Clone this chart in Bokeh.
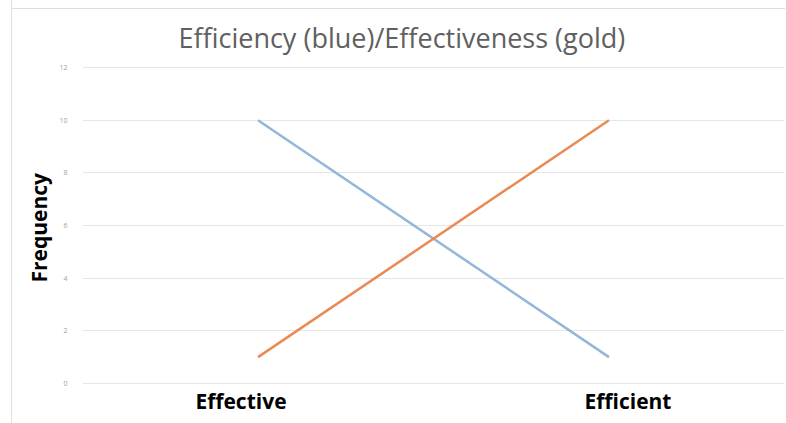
from bokeh.plotting import figure
from bokeh.models import Range1d, FactorRange, Title
from bokeh.core.properties import value
from bokeh.embed import file_html
from bokeh.resources import INLINE

categories = ["Effective", "Efficient"]
efficiency = [10, 1]      # blue
effectiveness = [1, 10]   # gold/orange
y_ticks = [0, 2, 4, 6, 8, 10, 12]
label_offsets = [-17, 19]
label_level = [-0.68, -0.68]

p = figure(width=774, height=423, output_backend="svg", toolbar_location=None,
           x_range=FactorRange(*categories), y_range=Range1d(-1.52, 12.04),
           min_border_left=70, min_border_right=2, min_border_top=66, min_border_bottom=0,
           styles={"margin-left": "11px", "border-left": "1px solid #dedede",
                   "background-image": "linear-gradient(#dedede, #dedede)",
                   "background-size": "100% 1px", "background-position": "0 8px",
                   "background-repeat": "no-repeat"})
p.outline_line_color = None
p.border_fill_color = None
p.background_fill_color = None

t = Title(text="Efficiency (blue)/Effectiveness (gold)", align="left",
          text_font="Open Sans", text_font_style="normal", text_font_size="27px",
          text_color="#606060", offset=96, standoff=22)
p.add_layout(t, "above")

p.line(categories, efficiency, line_color="#94b6d8", line_width=2.5)
p.line(categories, effectiveness, line_color="#ea8a52", line_width=2.5)

# category labels drawn at the factor positions
p.text(x=categories, y=label_level, text=categories, x_offset=label_offsets,
       text_align="center", text_baseline="middle", text_font=value("Open Sans"),
       text_font_style="bold", text_font_size="21px", text_color="#000000")

# y axis
p.yaxis.ticker = y_ticks
p.yaxis.axis_line_color = None
p.yaxis.major_tick_line_color = None
p.yaxis.minor_tick_line_color = None
p.yaxis.major_label_text_font = "Open Sans"
p.yaxis.major_label_text_font_size = "7px"
p.yaxis.major_label_text_color = "#a0a0a0"
p.yaxis.major_label_standoff = 9

ylab = Title(text="Frequency", align="left", text_font="Open Sans",
             text_font_style="bold", text_font_size="21px", text_color="#000000",
             offset=141, standoff=8)
p.add_layout(ylab, "left")

p.xaxis.visible = False
p.ygrid.grid_line_color = "#e6e6e6"
p.ygrid.grid_line_width = 1
p.xgrid.grid_line_color = None

open("out.html", "w").write(file_html(p, INLINE))
